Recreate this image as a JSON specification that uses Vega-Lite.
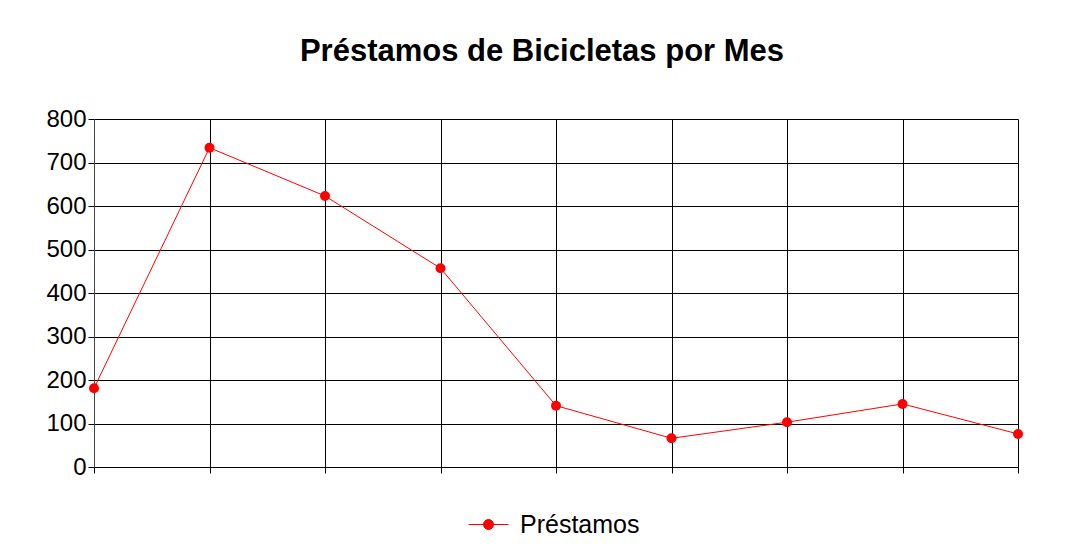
{
  "$schema": "https://vega.github.io/schema/vega-lite/v6.json",
  "width": 924,
  "height": 348,
  "autosize": {"type": "none"},
  "padding": {"left": 94, "top": 119, "right": 58, "bottom": 87},
  "background": "white",
  "title": {
    "text": "Préstamos de Bicicletas por Mes",
    "font": "Liberation Sans",
    "fontSize": 31,
    "fontWeight": "bold",
    "color": "black",
    "anchor": "middle",
    "frame": "group",
    "dx": -14,
    "offset": 39
  },
  "data": {
    "values": [
      {"mes": 1, "prestamos": 181},
      {"mes": 2, "prestamos": 734},
      {"mes": 3, "prestamos": 623},
      {"mes": 4, "prestamos": 457},
      {"mes": 5, "prestamos": 141},
      {"mes": 6, "prestamos": 66},
      {"mes": 7, "prestamos": 103},
      {"mes": 8, "prestamos": 145},
      {"mes": 9, "prestamos": 76}
    ]
  },
  "config": {
    "view": {"stroke": null},
    "axis": {"gridColor": "black", "gridOpacity": 1, "gridWidth": 1, "tickColor": "black", "domainColor": "#444"}
  },
  "encoding": {
    "x": {
      "field": "mes",
      "type": "ordinal",
      "scale": {"type": "point", "padding": 0},
      "axis": {"labels": false, "title": null, "grid": true, "tickSize": 6, "domain": true, "domainColor": "black"}
    },
    "y": {
      "field": "prestamos",
      "type": "quantitative",
      "scale": {"domain": [0, 800]},
      "axis": {
        "values": [0, 100, 200, 300, 400, 500, 600, 700, 800],
        "title": null,
        "grid": true,
        "tickSize": 6,
        "labelPadding": 2,
        "labelFont": "Liberation Sans",
        "labelFontSize": 24,
        "labelColor": "black"
      }
    }
  },
  "layer": [
    {
      "mark": {"type": "line", "strokeWidth": 1},
      "encoding": {
        "color": {
          "datum": "Préstamos",
          "type": "nominal",
          "scale": {"domain": ["Préstamos"], "range": ["#ff0000"]},
          "legend": {
            "title": null,
            "orient": "none",
            "legendX": 374,
            "legendY": 385,
            "padding": 0,
            "symbolType": "M-1,0H1M-0.25,0A0.25,0.25 0 1,1 0.25,0A0.25,0.25 0 1,1 -0.25,0Z",
            "symbolSize": 1600,
            "symbolStrokeWidth": 1,
            "symbolStrokeColor": "#ff0000",
            "symbolFillColor": "#ff0000",
            "labelFont": "Liberation Sans",
            "labelFontSize": 25,
            "labelColor": "black",
            "labelOffset": 11
          }
        }
      }
    },
    {
      "mark": {"type": "point", "filled": true, "size": 100, "color": "#ff0000", "opacity": 1}
    }
  ]
}
